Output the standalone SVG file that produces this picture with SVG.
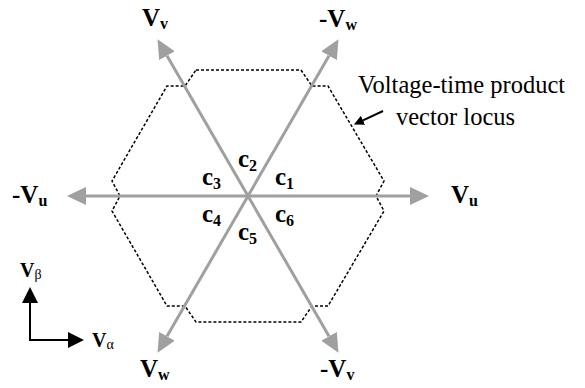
<svg xmlns="http://www.w3.org/2000/svg" width="585" height="388" viewBox="0 0 585 388">
<defs>
<marker id="ga" viewBox="0 0 19 18" refX="0" refY="9" markerWidth="19" markerHeight="18" markerUnits="userSpaceOnUse" orient="auto">
<path d="M0,0 L19,9 L0,18 Z" fill="#a0a0a0"/>
</marker>
<marker id="ka" viewBox="0 0 16 16" refX="0" refY="8" markerWidth="16" markerHeight="16" markerUnits="userSpaceOnUse" orient="auto">
<path d="M0,0 L16,8 L0,16 Z" fill="#000"/>
</marker>
<marker id="sa" viewBox="0 0 10 10" refX="0" refY="5" markerWidth="10" markerHeight="10" markerUnits="userSpaceOnUse" orient="auto">
<path d="M0,0 L10,5 L0,10 Z" fill="#000"/>
</marker>
</defs>
<style>
.vec{stroke:#a0a0a0;stroke-width:3;fill:none;marker-end:url(#ga)}
.loc{stroke:#000;stroke-width:1.5;fill:none;stroke-dasharray:3 2}
text{font-family:'Liberation Serif','Times New Roman',Times,'DejaVu Serif',serif;fill:#000}
.lb{font-weight:bold;font-size:25px}
.sb{font-size:16px}
.ax{font-weight:bold;font-size:20px}
.gs{font-weight:normal;font-size:14px}
.tx{font-size:24.5px}
</style>
<g id="locus">
<polygon class="loc" points="196,70 301,70 312,86 328,86 384,181 376,196 384,211 328,306 312,306 301,322 196,322 185,306 167,306 112,211 120,196 112,181 167,86 185,86"/>
</g>
<g id="connectors">
<line class="vec" x1="248" y1="196" x2="410" y2="196"/>
<line class="vec" x1="248" y1="196" x2="86" y2="196"/>
<line class="vec" x1="248" y1="196" x2="167" y2="55.7"/>
<line class="vec" x1="248" y1="196" x2="329" y2="55.7"/>
<line class="vec" x1="248" y1="196" x2="167" y2="336.3"/>
<line class="vec" x1="248" y1="196" x2="329" y2="336.3"/>
<line x1="383" y1="111" x2="363" y2="120.3" stroke="#000" stroke-width="2" marker-end="url(#sa)"/>
<line x1="30" y1="340" x2="30" y2="303" stroke="#000" stroke-width="2" marker-end="url(#ka)"/>
<line x1="29" y1="340" x2="68" y2="340" stroke="#000" stroke-width="2" marker-end="url(#ka)"/>
</g>
<g id="n-vu"><text class="lb" x="451" y="203">V<tspan class="sb" dy="3">u</tspan></text></g>
<g id="n-mvu"><text class="lb" x="12" y="203">-V<tspan class="sb" dy="3">u</tspan></text></g>
<g id="n-vv"><text class="lb" x="142" y="26">V<tspan class="sb" dy="3">v</tspan></text></g>
<g id="n-mvw"><text class="lb" x="319" y="27">-V<tspan class="sb" dy="3">w</tspan></text></g>
<g id="n-vw"><text class="lb" x="140" y="377">V<tspan class="sb" dy="3">w</tspan></text></g>
<g id="n-mvv"><text class="lb" x="320" y="377">-V<tspan class="sb" dy="3">v</tspan></text></g>
<g id="sectors">
<text class="lb" x="275" y="185">c<tspan class="sb" dy="4">1</tspan></text>
<text class="lb" x="238" y="167">c<tspan class="sb" dy="4">2</tspan></text>
<text class="lb" x="202" y="185">c<tspan class="sb" dy="4">3</tspan></text>
<text class="lb" x="202" y="222">c<tspan class="sb" dy="4">4</tspan></text>
<text class="lb" x="238" y="240">c<tspan class="sb" dy="4">5</tspan></text>
<text class="lb" x="275" y="222">c<tspan class="sb" dy="4">6</tspan></text>
</g>
<g id="locus-label">
<text class="tx" x="358" y="93">Voltage-time product</text>
<text class="tx" x="396" y="125">vector locus</text>
</g>
<g id="axes">
<text class="ax" x="20" y="277">V<tspan class="gs" dy="2">β</tspan></text>
<text class="ax" x="92" y="347">V<tspan class="gs" dy="2">α</tspan></text>
</g>
</svg>
